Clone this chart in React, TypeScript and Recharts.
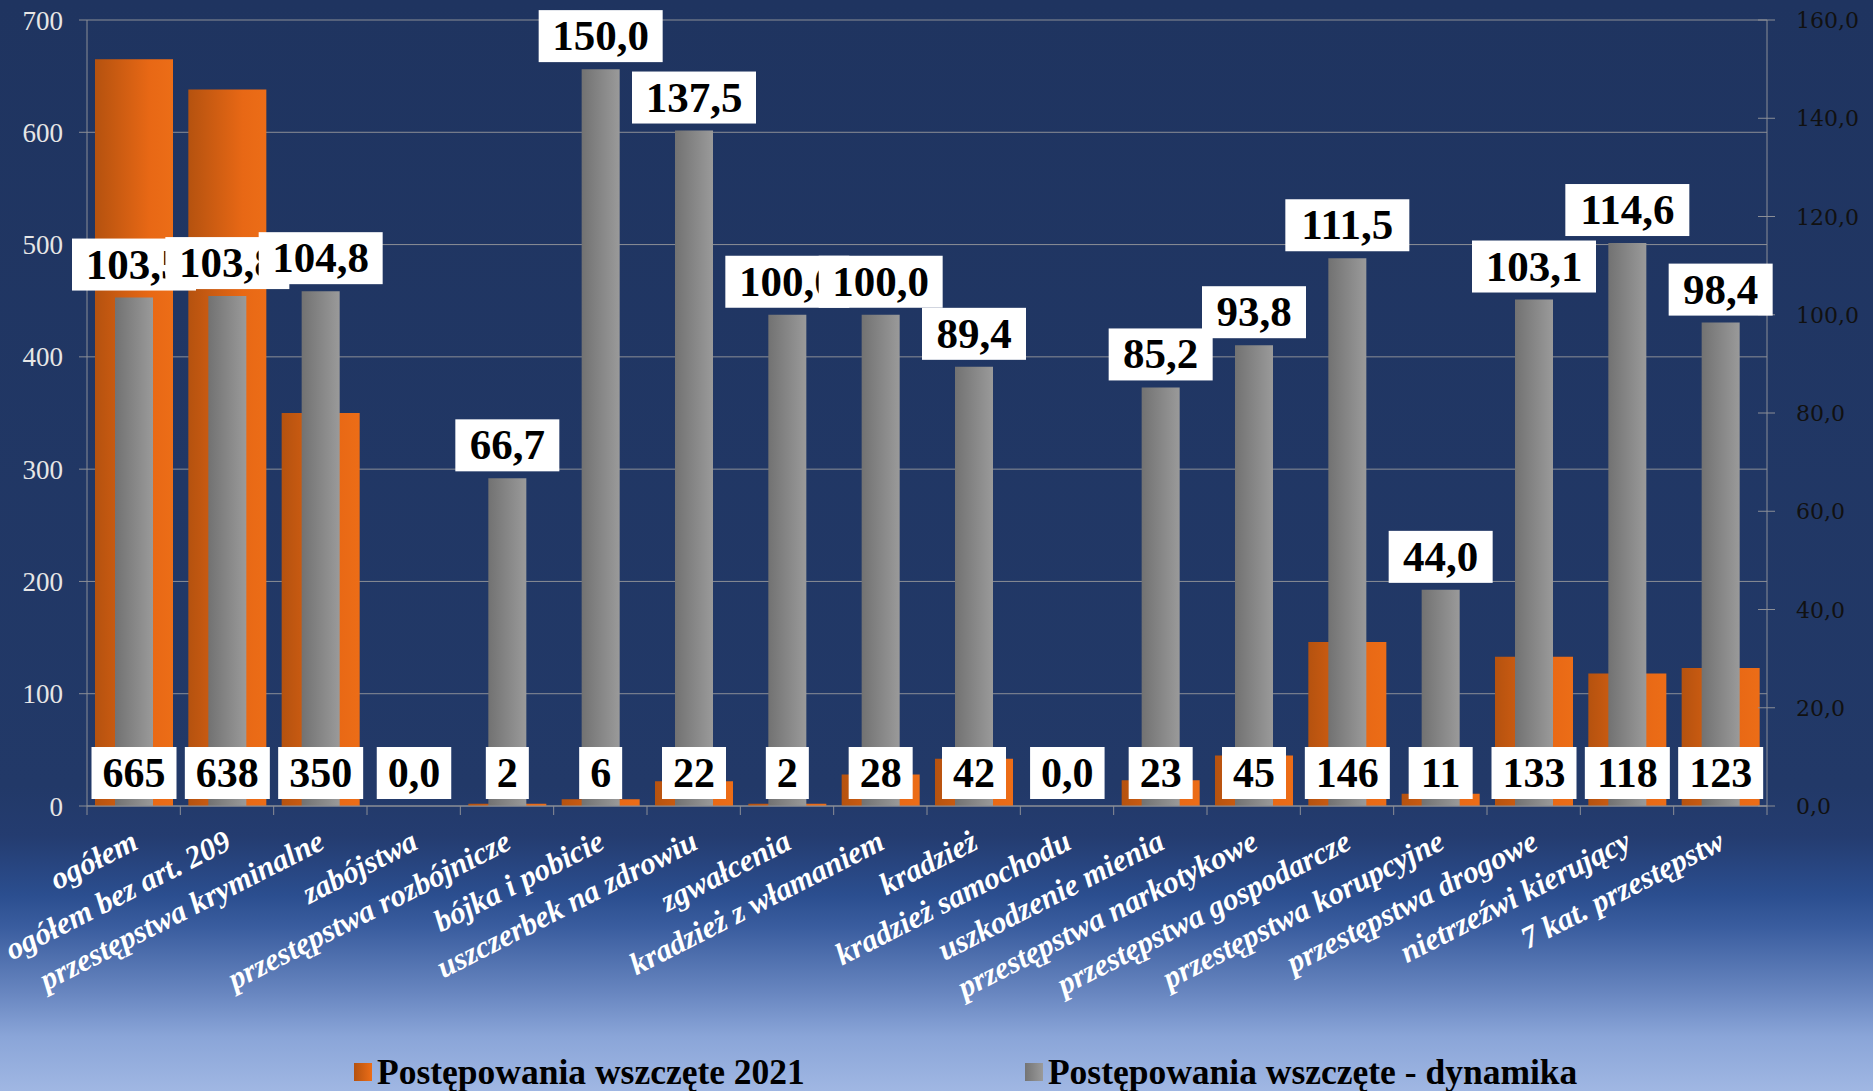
import { BarChart, Bar, XAxis, YAxis, CartesianGrid, LabelList, Legend } from 'recharts'

// dane z wykresu
const categories = [
  'ogółem',
  'ogółem bez art. 209',
  'przestępstwa kryminalne',
  'zabójstwa',
  'przestępstwa rozbójnicze',
  'bójka i pobicie',
  'uszczerbek na zdrowiu',
  'zgwałcenia',
  'kradzież z włamaniem',
  'kradzież',
  'kradzież samochodu',
  'uszkodzenie mienia',
  'przestępstwa narkotykowe',
  'przestępstwa gospodarcze',
  'przestępstwa korupcyjne',
  'przestępstwa drogowe',
  'nietrzeźwi kierujący',
  '7 kat. przestępstw',
]
const wszczete2021 = [665, 638, 350, 0, 2, 6, 22, 2, 28, 42, 0, 23, 45, 146, 11, 133, 118, 123]
const dynamika = [103.5, 103.8, 104.8, 0, 66.7, 150.0, 137.5, 100.0, 100.0, 89.4, 0, 85.2, 93.8, 111.5, 44.0, 103.1, 114.6, 98.4]
const leftTicks = [0, 100, 200, 300, 400, 500, 600, 700]
const rightTicks = [0, 20, 40, 60, 80, 100, 120, 140, 160]
const seriesNames = ['Postępowania wszczęte 2021', 'Postępowania wszczęte - dynamika']

const W = 1873
const H = 1091
const PLOT_W = 1680
const GRID = '#8b8e96'
const SERIF = '"Liberation Serif", "Times New Roman", serif'

const data = categories.map((name, i) => ({
  name,
  w2021: wszczete2021[i],
  dyn: dynamika[i],
}))

const fmt1 = (v: number) => v.toFixed(1).replace('.', ',')
// rough width of bold serif digits
const textW = (s: string, fs: number) =>
  s.split('').reduce((a, c) => a + (c === ',' ? 0.25 : 0.5) * fs, 0)

function GrayLabel(props: any) {
  const vb = props.viewBox || props
  const { x, y, width } = vb
  const value = Number(props.value)
  if (!value) return null
  const text = fmt1(value)
  const bw = textW(text, 40) + 34
  const bh = 52
  const cx = x + width / 2
  const top = y - 7 - bh
  return (
    <g>
      <rect x={cx - bw / 2} y={top} width={bw} height={bh} fill="#fff" />
      <text x={cx} y={top + bh / 2 + 14} textAnchor="middle" fontFamily={SERIF} fontWeight="bold" fontSize={43} fill="#000">
        {text}
      </text>
    </g>
  )
}

function OrangeLabel(props: any) {
  const vb = props.viewBox || props
  const { x, y, width, height } = vb
  const value = Number(props.value)
  const text = value === 0 ? '0,0' : String(value)
  const bw = textW(text, 42) + 22
  const bh = 52
  const cx = x + width / 2
  const bottom = y + height - 7
  return (
    <g>
      <rect x={cx - bw / 2} y={bottom - bh} width={bw} height={bh} fill="#fff" />
      <text x={cx} y={bottom - bh / 2 + 14} textAnchor="middle" fontFamily={SERIF} fontWeight="bold" fontSize={42} fill="#000">
        {text}
      </text>
    </g>
  )
}

function XTick(props: any) {
  const { x, y, payload, index } = props
  const band = PLOT_W / categories.length
  const tx = x + 6
  const ty = y + 42
  return (
    <g>
      <line x1={x - band / 2} y1={y} x2={x - band / 2} y2={y + 9} stroke={GRID} />
      {index === categories.length - 1 && (
        <line x1={x + band / 2} y1={y} x2={x + band / 2} y2={y + 9} stroke={GRID} />
      )}
      <text
        x={tx}
        y={ty}
        transform={`rotate(-27, ${tx}, ${ty})`}
        textAnchor="end"
        fontFamily={SERIF}
        fontWeight="bold"
        fontStyle="italic"
        fontSize={31}
        fill="#fff"
      >
        {payload.value}
      </text>
    </g>
  )
}

function RightTick(props: any) {
  const { x, y, payload } = props
  return (
    <g>
      <line x1={x - 9} y1={y} x2={x + 8} y2={y} stroke={GRID} />
      <text x={x + 29} y={y + 8} textAnchor="start" fontFamily='"DejaVu Serif", serif' fontSize={22} fill="#111">
        {fmt1(Number(payload.value))}
      </text>
    </g>
  )
}

function LegendBox() {
  const swatches = [
    'linear-gradient(to right, #b5520f, #ec6d17)',
    'linear-gradient(to right, #747474, #9a9a9a)',
  ]
  return (
    <div style={{ display: 'flex', alignItems: 'center' }}>
      {seriesNames.map((n, i) => (
        <div key={n} style={{ display: 'flex', alignItems: 'center', marginRight: i === 0 ? 220 : 0 }}>
          <span style={{ width: 18, height: 18, background: swatches[i], marginRight: 5, display: 'inline-block' }} />
          <span style={{ fontFamily: SERIF, fontWeight: 'bold', fontSize: 35.5, color: '#000', lineHeight: '40px', whiteSpace: 'nowrap' }}>{n}</span>
        </div>
      ))}
    </div>
  )
}

export default function App() {
  return (
    <div
      style={{
        width: W,
        height: H,
        overflow: 'hidden',
        background:
          'linear-gradient(to bottom, #1f3460 0%, #223968 72%, #243c70 76.6%, #2b4e8f 82%, #3a5d9f 85%, #6886c0 91%, #8aa5d8 95%, #a0b7e3 100%)',
      }}
    >
      <style>{'body{margin:0}'}</style>
      <BarChart width={W} height={H} data={data} margin={{ top: 20, right: 16, left: 27, bottom: 85 }}>
        <defs>
          <linearGradient id="gOrange" x1="0" y1="0" x2="1" y2="0">
            <stop offset="0" stopColor="#b5520f" />
            <stop offset="0.7" stopColor="#e86815" />
            <stop offset="1" stopColor="#ec6d17" />
          </linearGradient>
          <linearGradient id="gGray" x1="0" y1="0" x2="1" y2="0">
            <stop offset="0" stopColor="#727272" />
            <stop offset="1" stopColor="#9a9a9a" />
          </linearGradient>
        </defs>
        <CartesianGrid xAxisId="a" yAxisId="left" vertical={false} stroke={GRID} />
        <XAxis
          xAxisId="a"
          dataKey="name"
          interval={0}
          height={200}
          tickSize={0}
          tickMargin={0}
          tickLine={false}
          axisLine={{ stroke: GRID }}
          tick={<XTick />}
        />
        <XAxis xAxisId="b" dataKey="name" hide />
        <XAxis xAxisId="c" dataKey="name" hide />
        <YAxis
          yAxisId="left"
          width={60}
          domain={[0, 700]}
          ticks={leftTicks}
          interval={0}
          tickSize={8}
          tickMargin={16}
          axisLine={{ stroke: GRID }}
          tickLine={{ stroke: GRID }}
          tick={{ fill: '#e6e6e6', fontFamily: SERIF, fontSize: 27 }}
        />
        <YAxis
          yAxisId="right"
          orientation="right"
          width={90}
          domain={[0, 160]}
          ticks={rightTicks}
          interval={0}
          tickSize={0}
          tickMargin={0}
          tickLine={false}
          axisLine={{ stroke: GRID }}
          tick={<RightTick />}
        />
        <Legend
          layout="horizontal"
          verticalAlign="middle"
          align="center"
          wrapperStyle={{ top: 1052, left: 354, width: 1500, height: 40 }}
          content={() => <LegendBox />}
        />
        <Bar
          xAxisId="a"
          yAxisId="left"
          dataKey="w2021"
          name={seriesNames[0]}
          barSize={78}
          fill="url(#gOrange)"
          isAnimationActive={false}
        />
        <Bar
          xAxisId="b"
          yAxisId="right"
          dataKey="dyn"
          name={seriesNames[1]}
          barSize={38}
          fill="url(#gGray)"
          isAnimationActive={false}
        >
          <LabelList dataKey="dyn" content={<GrayLabel />} />
        </Bar>
        <Bar
          xAxisId="c"
          yAxisId="left"
          dataKey="w2021"
          barSize={78}
          minPointSize={1}
          fill="none"
          legendType="none"
          isAnimationActive={false}
        >
          <LabelList dataKey="w2021" content={<OrangeLabel />} />
        </Bar>
      </BarChart>
    </div>
  )
}
